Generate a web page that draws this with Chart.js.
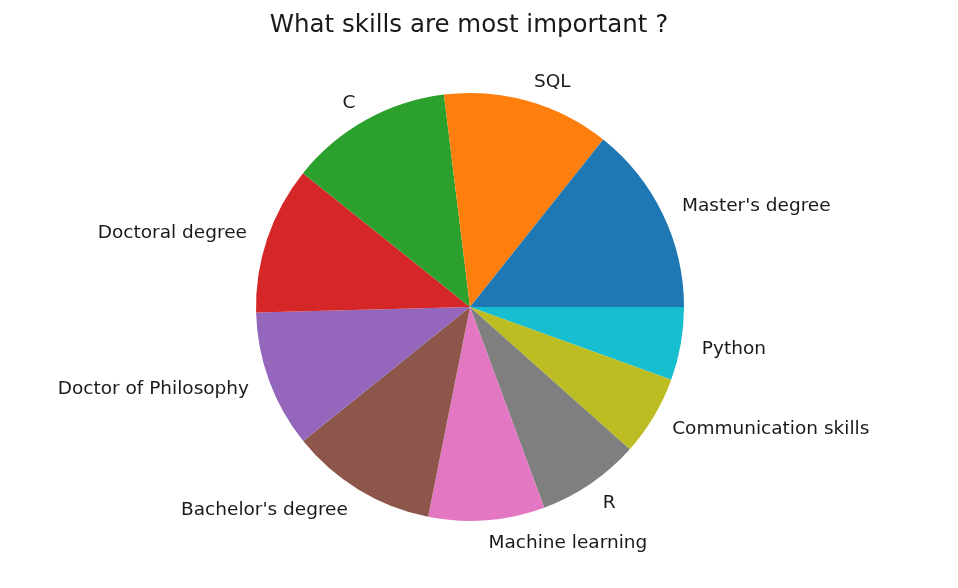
<!DOCTYPE html>
<html>
<head>
<meta charset="utf-8">
<script src="https://cdn.jsdelivr.net/npm/chart.js@4.4.1/dist/chart.umd.min.js"></script>
<style>
  html, body { margin: 0; padding: 0; background: #ffffff; }
  #wrap { width: 958px; height: 588px; }
</style>
</head>
<body>
<div id="wrap"><canvas id="c" width="958" height="588"></canvas></div>
<script>
// Data in the order drawn (counter-clockwise from 3 o'clock)
const categories = ["Master's degree", "SQL", "C", "Doctoral degree", "Doctor of Philosophy",
                    "Bachelor's degree", "Machine learning", "R", "Communication skills", "Python"];
const values = [51.5, 45.5, 44.3, 40.2, 37.3, 39.9, 31.6, 28.0, 21.8, 19.9];
const colors = ['#1f77b4', '#ff7f0e', '#2ca02c', '#d62728', '#9467bd',
                '#8c564b', '#e377c2', '#7f7f7f', '#bcbd22', '#17becf'];
const titleText = 'What skills are most important ?';

// Chart.js draws clockwise; reverse to mimic the counter-clockwise order
const chartLabels = categories.slice().reverse();
const chartValues = values.slice().reverse();
const chartColors = colors.slice().reverse();

const FONT = '"DejaVu Sans", sans-serif';

const labelPlugin = {
  id: 'outerLabels',
  afterDatasetsDraw(chart) {
    const ctx = chart.ctx;
    const meta = chart.getDatasetMeta(0);
    ctx.save();
    ctx.fillStyle = '#1a1a1a';
    ctx.font = '18.5px ' + FONT;
    ctx.textBaseline = 'middle';
    meta.data.forEach((arc, i) => {
      const p = arc.getProps(['x', 'y', 'startAngle', 'endAngle', 'outerRadius'], true);
      const mid = (p.startAngle + p.endAngle) / 2;
      const r = p.outerRadius * 1.1;
      const lx = p.x + r * Math.cos(mid);
      const ly = p.y + r * Math.sin(mid) + 1.5;
      ctx.textAlign = Math.cos(mid) > 0 ? 'left' : 'right';
      ctx.fillText(chartLabels[i], lx, ly);
    });
    // title
    ctx.font = '24.5px ' + FONT;
    ctx.textAlign = 'center';
    ctx.textBaseline = 'alphabetic';
    ctx.fillText(titleText, 469, 32);
    ctx.restore();
  }
};

new Chart(document.getElementById('c'), {
  type: 'pie',
  data: {
    labels: chartLabels,
    datasets: [{
      data: chartValues,
      backgroundColor: chartColors,
      borderWidth: 0,
      hoverOffset: 0
    }]
  },
  options: {
    responsive: false,
    animation: false,
    rotation: 90,
    layout: { padding: { left: 256, right: 274, top: 93, bottom: 67 } },
    plugins: {
      legend: { display: false },
      tooltip: { enabled: false },
      title: { display: false }
    }
  },
  plugins: [labelPlugin]
});
</script>
</body>
</html>
